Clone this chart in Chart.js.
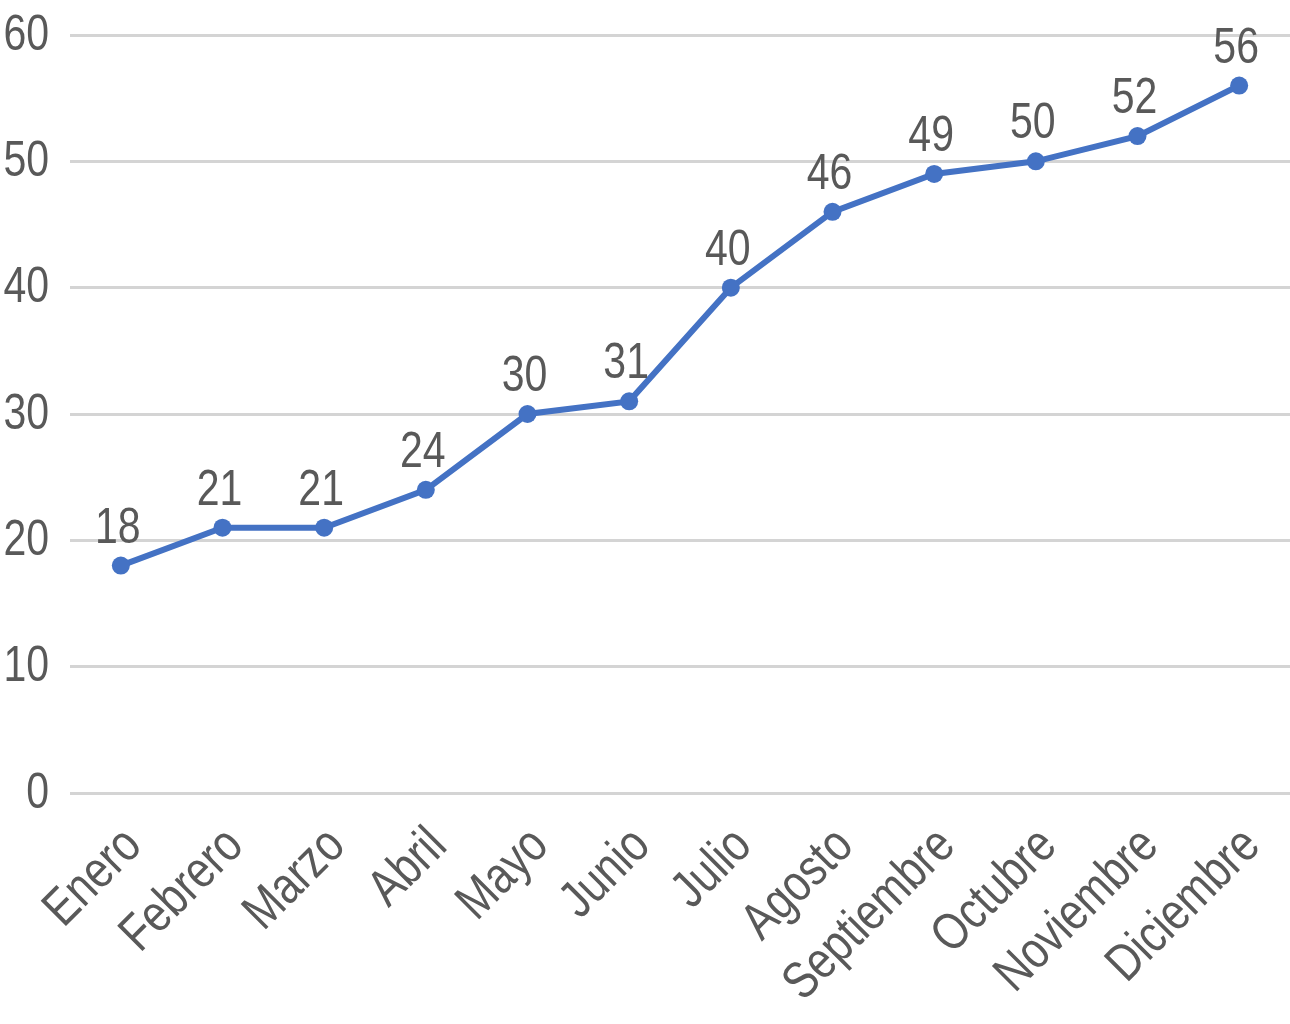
<!DOCTYPE html>
<html>
<head>
<meta charset="utf-8">
<script src="https://cdn.jsdelivr.net/npm/chart.js@4.4.0/dist/chart.umd.min.js"></script>
<style>
html,body{margin:0;padding:0;background:#fff;}
#wrap{width:1290px;height:1024px;position:relative;}
</style>
</head>
<body>
<div id="wrap"><canvas id="c"></canvas></div>
<script>
const categories = ["Enero","Febrero","Marzo","Abril","Mayo","Junio","Julio","Agosto","Septiembre","Octubre","Noviembre","Diciembre"];
const values = [18,21,21,24,30,31,40,46,49,50,52,56];
const yTicks = [0,10,20,30,40,50,60];

const FONT = '"Liberation Sans", Arial, sans-serif';
const TEXT = '#595959';
const NARROW = 0.82;

function narrowText(ctx, text, x, y, angle, align, baseline) {
  ctx.save();
  ctx.translate(x, y);
  if (angle) ctx.rotate(angle);
  ctx.scale(NARROW, 1);
  ctx.textAlign = align;
  ctx.textBaseline = baseline;
  ctx.fillText(text, 0, 0);
  ctx.restore();
}

const textPlugin = {
  id: 'narrowLabels',
  afterDraw(chart) {
    const ctx = chart.ctx;
    const xs = chart.scales.x, ys = chart.scales.y;
    ctx.save();
    ctx.fillStyle = TEXT;
    // y-axis tick labels
    ctx.font = '50px ' + FONT;
    yTicks.forEach(v => {
      narrowText(ctx, String(v), xs.left - 21, ys.getPixelForValue(v) + 1, 0, 'right', 'middle');
    });
    // value labels
    const meta = chart.getDatasetMeta(0);
    meta.data.forEach((pt, i) => {
      narrowText(ctx, String(values[i]), pt.x - 3, pt.y - 23, 0, 'center', 'alphabetic');
    });
    // x-axis category labels, rotated 45°
    ctx.font = '52px ' + FONT;
    categories.forEach((c, i) => {
      const x = xs.getPixelForTick(i);
      narrowText(ctx, c, x + 23, ys.bottom + 55, -Math.PI / 4, 'right', 'alphabetic');
    });
    ctx.restore();
  }
};

new Chart(document.getElementById('c'), {
  type: 'line',
  data: {
    labels: categories,
    datasets: [{
      data: values,
      borderColor: '#4472C4',
      backgroundColor: '#4472C4',
      borderWidth: 6,
      pointRadius: 9,
      pointHoverRadius: 9,
      pointBorderWidth: 0,
      pointBackgroundColor: '#4472C4',
      pointBorderColor: '#4472C4',
      tension: 0,
      fill: false
    }]
  },
  options: {
    responsive: true,
    maintainAspectRatio: false,
    animation: false,
    devicePixelRatio: 1,
    layout: { autoPadding: false, padding: { left: 0, right: 0, top: 35, bottom: 0 } },
    plugins: { legend: { display: false }, tooltip: { enabled: false } },
    scales: {
      x: {
        offset: true,
        grid: { display: false },
        border: { display: false },
        ticks: { display: false, autoSkip: false },
        afterFit(s) { s.height = 231; s.paddingLeft = 0; s.paddingRight = 0; }
      },
      y: {
        min: 0,
        max: 60,
        afterBuildTicks(s) { s.ticks = yTicks.map(v => ({ value: v })); },
        grid: { color: '#D4D4D4', lineWidth: 3, drawTicks: false },
        border: { display: false },
        ticks: { display: false },
        afterFit(s) { s.width = 70; s.paddingTop = 0; s.paddingBottom = 0; }
      }
    }
  },
  plugins: [textPlugin]
});
</script>
</body>
</html>
